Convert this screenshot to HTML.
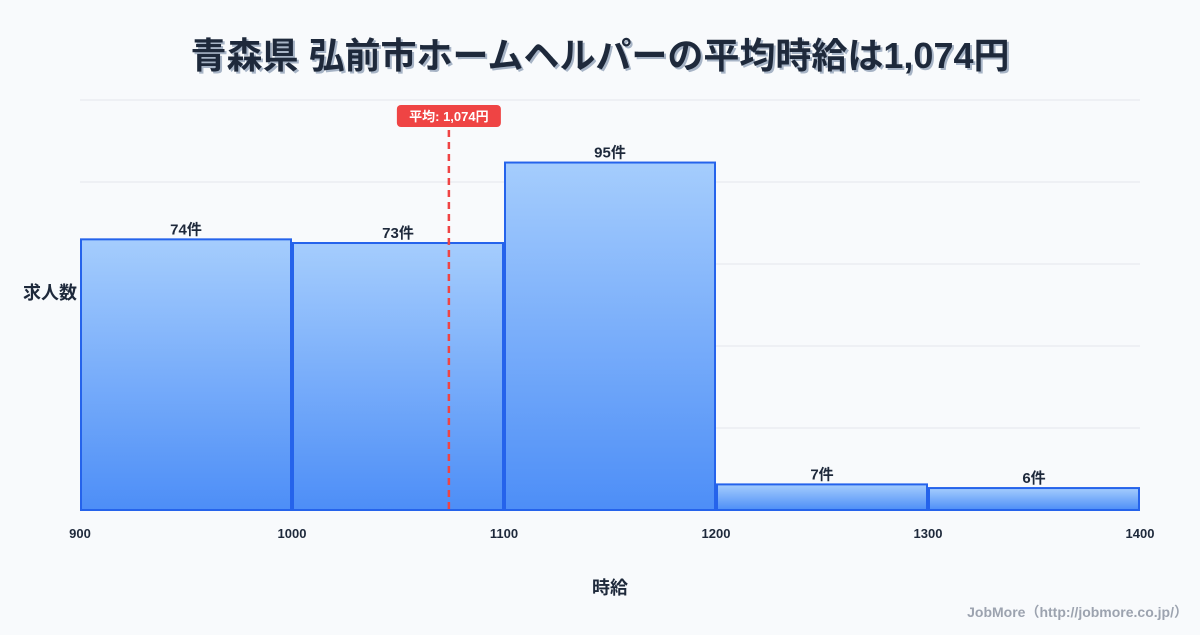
<!DOCTYPE html>
<html><head><meta charset="utf-8"><style>
html,body{margin:0;padding:0;background:#f8fafc;}
body{width:1200px;height:630px;overflow:hidden;font-family:"Liberation Sans","Noto Sans CJK JP",sans-serif;}
svg text{font-family:"Liberation Sans","Noto Sans CJK JP",sans-serif;}
</style></head><body>
<svg id="chart" width="1200" height="630">
<defs>
<linearGradient id="bg" x1="0" y1="0" x2="0" y2="1"><stop offset="0" stop-color="#a5cdfd"/><stop offset="1" stop-color="#4d8ef7"/></linearGradient>
</defs>
<text x="600" y="68" text-anchor="middle" font-size="36" font-weight="bold" fill="#a7b4c6" transform="translate(2,2)">青森県 弘前市ホームヘルパーの平均時給は1,074円</text>
<text x="600" y="68" text-anchor="middle" font-size="36" font-weight="bold" fill="#1e293b">青森県 弘前市ホームヘルパーの平均時給は1,074円</text>
<g id="grid"></g>
<g id="bars"></g>
<g id="xticks"></g>
<text x="50" y="299" text-anchor="middle" font-size="18" font-weight="bold" fill="#1e293b">求人数</text>
<text x="610" y="594" text-anchor="middle" font-size="18" font-weight="bold" fill="#1e293b">時給</text>
<text x="1188" y="617" text-anchor="end" font-size="14" font-weight="bold" fill="#9ca3af">JobMore（http://jobmore.co.jp/）</text>
<g id="mean"></g>
</svg>
<script>
const binStarts=[900,1000,1100,1200,1300];
const binWidth=100;
const counts=[74,73,95,7,6];
const xTicks=[900,1000,1100,1200,1300,1400];
const meanValue=1074;
const meanLabel="平均: 1,074円";
const NS="http://www.w3.org/2000/svg";
const X0=80,X1=1140,Y0=510,Y1=100;
const xMin=900,xMax=1400;
const yMax=Math.max(...counts)*1.18;
const xs=v=>X0+(v-xMin)/(xMax-xMin)*(X1-X0);
const ys=v=>Y0-v/yMax*(Y0-Y1);
function mk(tag,attrs,parent){const e=document.createElementNS(NS,tag);for(const k in attrs)e.setAttribute(k,attrs[k]);parent.appendChild(e);return e;}
const grid=document.getElementById('grid');
for(let i=0;i<=5;i++){const y=Y1+(Y0-Y1)*i/5;
const l=mk('line',{x1:X0,x2:X1,y1:y,y2:y,stroke:'#e5e7eb','stroke-width':1},grid);

}
const bars=document.getElementById('bars');
counts.forEach((c,i)=>{
const xa=xs(binStarts[i])+1,xb=xs(binStarts[i]+binWidth)-1,y=ys(c);
const r=mk('rect',{x:xa,y:y,width:xb-xa,height:Y0-y,fill:'url(#bg)',stroke:'#2563eb','stroke-width':2},bars);


const t=mk('text',{x:(xa+xb)/2,y:y-5,'text-anchor':'middle','font-size':15,'font-weight':'bold',fill:'#1e293b'},bars);
t.textContent=c+'件';


});
const xt=document.getElementById('xticks');
xTicks.forEach(v=>{
const t=mk('text',{x:xs(v),y:538,'text-anchor':'middle','font-size':13,'font-weight':'bold',fill:'#1e293b'},xt);
t.textContent=v;


});
const mg=document.getElementById('mean');
const mx=xs(meanValue);
const ml=mk('line',{x1:mx,x2:mx,y1:130,y2:Y0,stroke:'#ef4444','stroke-width':2.5,'stroke-dasharray':'7,5'},mg);


const mr=mk('rect',{x:mx-52,y:105,width:104,height:22,rx:4,fill:'#ef4444'},mg);


const mt=mk('text',{x:mx,y:121,'text-anchor':'middle','font-size':13,'font-weight':'bold',fill:'#fff'},mg);
mt.textContent=meanLabel;


</script>
</body></html>
